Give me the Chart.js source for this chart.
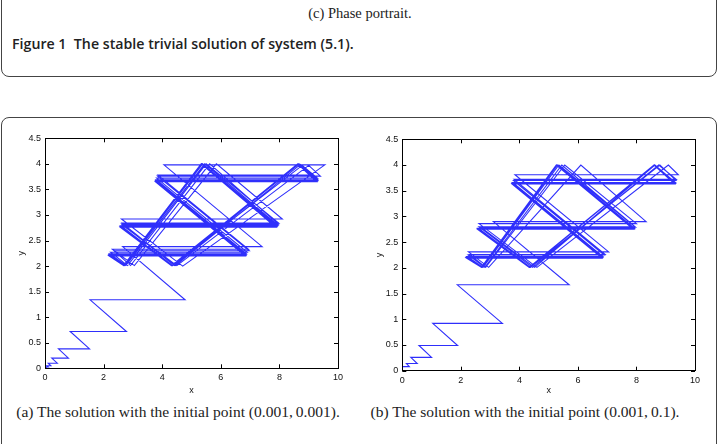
<!DOCTYPE html>
<html><head><meta charset="utf-8">
<script src="https://cdn.jsdelivr.net/npm/chart.js@4/dist/chart.umd.min.js"></script>
<style>
html,body{margin:0;padding:0;background:#fff;width:719px;height:444px;overflow:hidden;position:relative}
.box1{position:absolute;left:1px;top:-30px;width:716px;height:107px;border:1px solid #444;border-radius:8px;box-sizing:border-box}
.box2{position:absolute;left:1px;top:117px;width:716px;height:360px;border:1px solid #444;border-radius:8px;box-sizing:border-box}
.sub{position:absolute;font-family:"Liberation Serif",serif;font-size:15.5px;color:#222;white-space:nowrap;transform:translateX(-50%)}
.fig{position:absolute;left:12px;top:34px;font-family:"Open Sans",sans-serif;font-weight:600;font-size:14.2px;color:#222;white-space:nowrap}
.cv{position:absolute}
</style></head><body>
<div class="box1"></div>
<div class="box2"></div>
<div class="sub" style="left:360px;top:5px;font-size:14.5px">(c) Phase portrait.</div>
<div class="fig">Figure 1&nbsp;&nbsp;The stable trivial solution of system (5.1).</div>
<div class="sub" style="left:178px;top:403px">(a) The solution with the initial point (0.001,&#8201;0.001).</div>
<div class="sub" style="left:525px;top:403px">(b) The solution with the initial point (0.001,&#8201;0.1).</div>
<div class="cv" style="left:0px;top:120px;width:350px;height:290px"><canvas id="ca"></canvas></div>
<div class="cv" style="left:357px;top:120px;width:350px;height:290px"><canvas id="cb"></canvas></div>
<script>
const xTicks = [0, 2, 4, 6, 8, 10];
const yTicks = [0, 0.5, 1, 1.5, 2, 2.5, 3, 3.5, 4, 4.5];

// (a) initial point (0.001, 0.001)
const xA = [
 0.001, 0.03, 0.02, 0.06, 0.04, 0.11, 0.06, 0.2, 0.11, 0.42, 0.23, 0.8, 0.46, 1.52, 0.86, 2.78, 1.54, 4.78, 2.65, 7.41, 4.06, 9.55,
 4.7, 2.61, 8.1, 5.85, 3.05, 2.3, 6.94, 3.86, 9.15, 8.72,
 4.45, 2.63, 7.98, 5.5, 2.82, 2.24, 6.9, 3.81, 9.3, 8.78,
 4.36, 2.59, 7.92, 5.38, 2.72, 2.2, 6.86, 3.79, 9.3, 8.66,
 4.32, 2.58, 7.9, 5.34, 2.69, 2.19, 6.84, 3.78, 9.28, 8.64,
 4.31, 2.57, 7.88, 5.33, 2.68, 2.18, 6.83, 3.77, 9.27, 8.62,
 4.33, 2.58, 7.91, 5.36, 2.7, 2.2, 6.85, 3.79, 9.29, 8.65,
 4.42, 2.62, 7.96, 5.62, 2.92, 2.36, 6.97, 3.84, 9.4, 9.0,
 4.5, 2.65, 7.95, 5.45, 2.76, 2.21, 6.87, 3.8, 9.31, 8.68,
 4.34, 2.58, 7.9, 5.35, 2.7, 2.19, 6.84, 3.78, 9.28, 8.64, 4.33
];
const yA = [
 0.001, 0.001, 0.012, 0.012, 0.026, 0.026, 0.05, 0.05, 0.1, 0.1, 0.2, 0.2, 0.38, 0.38, 0.72, 0.72, 1.34, 1.34, 2.38, 2.38, 3.98, 3.98,
 2.0, 2.92, 2.92, 4.0, 2.01, 2.33, 2.33, 3.78, 3.78, 3.99,
 2.01, 2.84, 2.84, 4.0, 2.01, 2.27, 2.27, 3.72, 3.72, 3.97,
 2.01, 2.79, 2.79, 4.0, 2.01, 2.23, 2.23, 3.68, 3.68, 4.0,
 2.01, 2.77, 2.77, 4.0, 2.01, 2.21, 2.21, 3.66, 3.66, 4.0,
 2.01, 2.76, 2.76, 4.0, 2.01, 2.2, 2.2, 3.65, 3.65, 4.0,
 2.01, 2.78, 2.78, 4.0, 2.01, 2.22, 2.22, 3.67, 3.67, 4.0,
 2.01, 2.82, 2.82, 4.0, 2.01, 2.3, 2.3, 3.76, 3.76, 3.97,
 2.01, 2.8, 2.8, 4.0, 2.01, 2.24, 2.24, 3.69, 3.69, 4.0,
 2.01, 2.77, 2.77, 4.0, 2.01, 2.21, 2.21, 3.66, 3.66, 4.0, 2.01
];

// (b) initial point (0.001, 0.1)
const xB = [
 0.001, 0.24, 0.14, 0.51, 0.29, 1.0, 0.57, 1.89, 1.04, 3.42, 1.88, 5.7, 3.11, 8.33, 6.1,
 2.95, 2.26, 7.05, 3.85, 9.43, 9.09,
 4.6, 2.62, 8.0, 5.55, 2.85, 2.3, 6.93, 3.82, 9.36, 8.76,
 4.45, 2.62, 7.95, 5.35, 2.76, 2.22, 6.85, 3.77, 9.33, 8.62,
 4.34, 2.58, 7.92, 5.27, 2.71, 2.2, 6.83, 3.76, 9.32, 8.6,
 4.33, 2.57, 7.9, 5.26, 2.7, 2.19, 6.82, 3.75, 9.31, 8.6,
 4.36, 2.59, 7.93, 5.3, 2.73, 2.21, 6.84, 3.77, 9.33, 8.63,
 4.52, 2.68, 7.97, 5.45, 2.82, 2.25, 6.9, 3.8, 9.35, 8.8,
 4.38, 2.6, 7.92, 5.29, 2.72, 2.2, 6.83, 3.76, 9.32, 8.6, 4.34
];
const yB = [
 0.08, 0.08, 0.14, 0.14, 0.26, 0.26, 0.49, 0.49, 0.92, 0.92, 1.67, 1.67, 2.9, 2.9, 4.0,
 2.01, 2.31, 2.31, 3.81, 3.81, 4.0,
 2.01, 2.86, 2.86, 4.0, 2.01, 2.26, 2.26, 3.72, 3.72, 4.0,
 2.01, 2.8, 2.8, 4.0, 2.01, 2.22, 2.22, 3.66, 3.66, 4.0,
 2.01, 2.76, 2.76, 4.0, 2.01, 2.2, 2.2, 3.64, 3.64, 4.0,
 2.01, 2.75, 2.75, 4.0, 2.01, 2.19, 2.19, 3.63, 3.63, 4.0,
 2.01, 2.77, 2.77, 4.0, 2.01, 2.21, 2.21, 3.65, 3.65, 4.0,
 2.01, 2.79, 2.79, 4.0, 2.01, 2.25, 2.25, 3.7, 3.7, 4.0,
 2.01, 2.77, 2.77, 4.0, 2.01, 2.2, 2.2, 3.64, 3.64, 4.0, 2.01
];

const framePlugin = {
  id: 'matlabFrame',
  afterDraw(chart) {
    const {ctx, chartArea: a, scales: {x, y}} = chart;
    ctx.save();
    ctx.strokeStyle = '#000';
    ctx.lineWidth = 1;
    ctx.strokeRect(Math.round(a.left) + 0.5, Math.round(a.top) + 0.5, Math.round(a.right - a.left), Math.round(a.bottom - a.top));
    ctx.beginPath();
    const L = 4;
    x.ticks.forEach(t => {
      const p = Math.round(x.getPixelForValue(t.value)) + 0.5;
      ctx.moveTo(p, a.bottom); ctx.lineTo(p, a.bottom - L);
      ctx.moveTo(p, a.top); ctx.lineTo(p, a.top + L);
    });
    y.ticks.forEach(t => {
      const p = Math.round(y.getPixelForValue(t.value)) + 0.5;
      ctx.moveTo(a.left, p); ctx.lineTo(a.left + L, p);
      ctx.moveTo(a.right, p); ctx.lineTo(a.right - L, p);
    });
    ctx.stroke();
    ctx.restore();
  }
};

function makeChart(id, xs, ys, cfg) {
  const pts = xs.map((v, i) => ({x: v, y: ys[i]}));
  const tickFont = {family: 'Liberation Sans, Arial, sans-serif', size: 9};
  return new Chart(document.getElementById(id), {
    type: 'scatter',
    data: {datasets: [{data: pts, showLine: true, borderColor: 'rgba(10,10,250,0.85)', borderWidth: 1.1, pointRadius: 0, tension: 0, fill: false}]},
    options: {
      responsive: true, maintainAspectRatio: false, animation: false,
      layout: {padding: {left: 0, top: cfg.padTop, right: 12, bottom: 0}},
      plugins: {legend: {display: false}, tooltip: {enabled: false}},
      scales: {
        x: {
          type: 'linear', min: 0, max: 10,
          afterBuildTicks: s => { s.ticks = xTicks.map(v => ({value: v})); },
          afterFit: s => { s.height = cfg.xH; },
          grid: {display: false, drawTicks: false},
          border: {display: false},
          ticks: {font: tickFont, color: '#111', padding: 4, maxRotation: 0, callback: v => String(v)},
          title: {display: true, text: 'x', font: tickFont, color: '#111', padding: {top: 0, bottom: 14}}
        },
        y: {
          type: 'linear', min: 0, max: 4.5,
          afterBuildTicks: s => { s.ticks = yTicks.map(v => ({value: v})); },
          afterFit: s => { s.width = cfg.yW; },
          grid: {display: false, drawTicks: false},
          border: {display: false},
          ticks: {font: tickFont, color: '#111', padding: 4, callback: v => String(v)},
          title: {display: true, text: 'y', font: tickFont, color: '#111', padding: {top: cfg.yTitlePad, bottom: 0}}
        }
      }
    },
    plugins: [framePlugin]
  });
}

makeChart('ca', xA, yA, {padTop: 18.3, xH: 41.7, yW: 45, yTitlePad: 16});
makeChart('cb', xB, yB, {padTop: 19.3, xH: 39.3, yW: 45.3, yTitlePad: 17});
</script>
</body></html>
